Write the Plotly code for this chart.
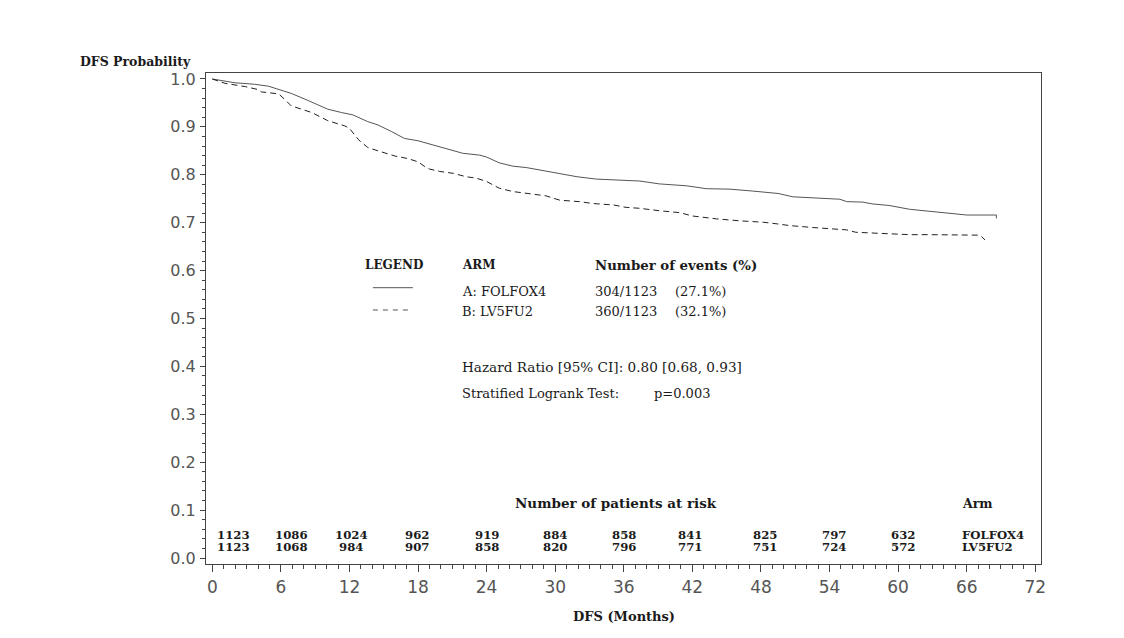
import plotly.graph_objects as go

# ---- data ----
time_a = [0, 2.0, 3.7, 4.9, 6.1, 6.9, 8.1, 9.0, 10.1, 11.3, 12.3, 13.6, 14.5, 15.7, 16.8, 18.0,
          19.0, 20.8, 21.9, 23.4, 24.0, 25.1, 26.3, 27.5, 28.9, 30.4, 31.9, 33.6, 35.6, 37.4,
          39.1, 41.0, 41.5, 43.2, 45.3, 47.3, 49.5, 50.8, 53.1, 54.9, 55.5, 56.9, 57.8, 59.2,
          61.0, 62.6, 63.9, 65.4, 66.0, 68.6, 68.6]
surv_a = [1.0, 0.992, 0.989, 0.985, 0.976, 0.970, 0.958, 0.949, 0.937, 0.930, 0.925, 0.911, 0.904,
          0.890, 0.876, 0.871, 0.864, 0.852, 0.845, 0.841, 0.837, 0.825, 0.818, 0.815, 0.809,
          0.803, 0.796, 0.791, 0.789, 0.787, 0.781, 0.779, 0.777, 0.771, 0.770, 0.766, 0.761,
          0.754, 0.752, 0.749, 0.744, 0.743, 0.739, 0.736, 0.728, 0.724, 0.721, 0.718, 0.716,
          0.716, 0.709]

time_b = [0, 1.1, 2.9, 4.0, 4.3, 5.8, 6.4, 6.9, 8.7, 10.1, 11.6, 12.0, 12.8, 13.6, 14.5, 16.0,
          17.1, 18.0, 18.6, 19.0, 19.9, 21.1, 22.2, 23.1, 24.0, 25.1, 26.3, 27.8, 29.2, 30.4,
          32.1, 33.3, 35.1, 36.2, 37.4, 39.1, 40.9, 42.0, 44.1, 46.1, 48.2, 49.6, 50.5, 52.5,
          54.3, 55.5, 56.3, 58.7, 61.0, 62.7, 67.0, 67.3, 67.6]
surv_b = [1.0, 0.991, 0.984, 0.978, 0.973, 0.969, 0.956, 0.944, 0.930, 0.913, 0.902, 0.897, 0.873,
          0.857, 0.850, 0.839, 0.834, 0.827, 0.817, 0.812, 0.807, 0.803, 0.796, 0.793, 0.786,
          0.772, 0.765, 0.760, 0.756, 0.747, 0.744, 0.740, 0.737, 0.732, 0.730, 0.725, 0.721,
          0.714, 0.708, 0.704, 0.701, 0.697, 0.694, 0.690, 0.687, 0.685, 0.680, 0.677, 0.675,
          0.675, 0.674, 0.671, 0.664]

risk_times = [0, 6, 12, 18, 24, 30, 36, 42, 48, 54, 60]
risk_a = [1123, 1086, 1024, 962, 919, 884, 858, 841, 825, 797, 632]
risk_b = [1123, 1068, 984, 907, 858, 820, 796, 771, 751, 724, 572]

arm_names = ["FOLFOX4", "LV5FU2"]
arm_labels = ["A: FOLFOX4", "B: LV5FU2"]
event_counts = ["304/1123", "360/1123"]
event_pcts = ["(27.1%)", "(32.1%)"]
hr_text = "Hazard Ratio [95% CI]: 0.80 [0.68, 0.93]"
lr_label = "Stratified Logrank Test:"
lr_p = "p=0.003"

# ---- styling ----
SERIF = "DejaVu Serif"
TXT = "#1a1a1a"
AX = "#444444"
OFF = 8  # page body margin offset (screen px -> figure px)

fig = go.Figure()
fig.add_trace(go.Scatter(x=time_a, y=surv_a, mode="lines",
                         line=dict(color="#555555", width=1), showlegend=False))
fig.add_trace(go.Scatter(x=time_b, y=surv_b, mode="lines",
                         line=dict(color="#222222", width=1, dash="6px,4px"), showlegend=False))

# plot-area geometry in screen pixels
SL, SR, ST, SB = 206, 1041.5, 73, 564
FW, FH = 1116, 630
W, H = SR - SL, SB - ST
def px(x):
    return (x - SL) / W
def py(y):
    return (SB - y) / H

ann = []
def text(x, y, s, size=12, bold=False, anchor="left", color=TXT):
    ann.append(dict(x=px(x), y=py(y), xref="paper", yref="paper", text=s, showarrow=False,
                    xanchor=anchor, yanchor="middle",
                    font=dict(family=SERIF, size=size, color=color,
                              weight="bold" if bold else "normal")))

text(78, 61, "DFS Probability", 12.5, True)
text(624, 616, "DFS (Months)", 13, True, anchor="center")

# legend block
text(363, 265, "LEGEND", 12, True)
text(460, 265, "ARM", 12, True)
text(593, 265, "Number of events (%)", 13.3, True)
text(460, 291, arm_labels[0], 13)
text(593, 291, event_counts[0], 13)
text(673, 291, event_pcts[0], 13)
text(460, 311, arm_labels[1], 13)
text(593, 311, event_counts[1], 13)
text(673, 311, event_pcts[1], 13)
text(460, 367, hr_text, 13.6)
text(460, 393, lr_label, 13)
text(652, 393, lr_p, 13)

# at-risk table
text(513, 503, "Number of patients at risk", 13.5, True)
text(960, 503, "Arm", 12.5, True)
text(960, 535, arm_names[0], 11.7, True)
text(960, 547, arm_names[1], 11.7, True)
risk_xshift = [21, 11, 2, -1, 0, 0, 0, -2, 4, 4, 5]
for i, t in enumerate(risk_times):
    for row, vals in ((535, risk_a), (547, risk_b)):
        ann.append(dict(x=t, y=py(row), xref="x", yref="paper", text=str(vals[i]),
                        showarrow=False, xanchor="center", yanchor="middle", xshift=risk_xshift[i],
                        font=dict(family=SERIF, size=11.7, color=TXT, weight="bold")))

shapes = [
    dict(type="line", xref="paper", yref="paper", x0=px(373), x1=px(413), y0=py(287.7), y1=py(287.7),
         line=dict(color="#555555", width=1)),
    dict(type="line", xref="paper", yref="paper", x0=px(373), x1=px(410), y0=py(310), y1=py(310),
         line=dict(color="#555555", width=1, dash="5px,5px")),
]

fig.update_layout(
    width=FW, height=FH,
    margin=dict(l=SL - OFF, r=FW - (SR - OFF), t=ST - OFF, b=FH - (SB - OFF), autoexpand=False),
    paper_bgcolor="white", plot_bgcolor="white",
    annotations=ann, shapes=shapes, showlegend=False,
    xaxis=dict(range=[-0.55, 72.5], tickmode="linear", tick0=0, dtick=6,
               ticks="outside", ticklen=7, tickcolor=AX, tickwidth=1,
               minor=dict(dtick=1, ticklen=4, tickcolor=AX, ticks="outside", tickwidth=1),
               showgrid=False, zeroline=False, showline=True, linecolor=AX, linewidth=1,
               mirror=True, ticklabelstandoff=1,
               tickfont=dict(family="DejaVu Sans", size=17, color="#555555")),
    yaxis=dict(range=[-0.0125, 1.0125], tickmode="linear", tick0=0, dtick=0.1, tickformat=".1f",
               ticks="outside", ticklen=5, tickcolor=AX, tickwidth=1,
               minor=dict(dtick=0.02, ticklen=3, tickcolor=AX, ticks="outside", tickwidth=1),
               showgrid=False, zeroline=False, showline=True, linecolor=AX, linewidth=1,
               mirror=True, ticklabelstandoff=1,
               tickfont=dict(family="DejaVu Sans", size=16, color="#555555")),
)

fig.write_html("out.html")
